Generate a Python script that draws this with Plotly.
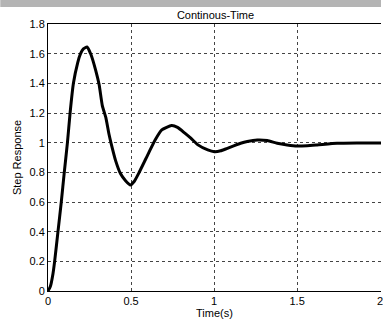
import plotly.graph_objects as go

time_s = [0, 0.014, 0.030, 0.040, 0.060, 0.080, 0.098, 0.117, 0.133, 0.153, 0.179, 0.196, 0.213,
          0.235, 0.258, 0.288, 0.308, 0.327, 0.348, 0.367, 0.381, 0.407, 0.437, 0.467, 0.496,
          0.52, 0.546, 0.605, 0.645, 0.685, 0.744, 0.78, 0.824, 0.86, 0.903, 0.962, 1.002,
          1.04, 1.08, 1.16, 1.2, 1.26, 1.32, 1.38, 1.44, 1.50, 1.56, 1.62, 1.74, 1.86, 2.01]
step_response = [0, 0.03, 0.117, 0.2, 0.4, 0.6, 0.8, 1.0, 1.2, 1.4, 1.54, 1.6, 1.632,
                 1.645, 1.596, 1.484, 1.39, 1.25, 1.17, 1.058, 0.99, 0.879, 0.79, 0.744, 0.715,
                 0.74, 0.793, 0.928, 1.018, 1.086, 1.115, 1.103, 1.064, 1.03, 0.985, 0.951, 0.939,
                 0.945, 0.962, 0.996, 1.008, 1.018, 1.014, 0.996, 0.985, 0.978, 0.98, 0.985, 0.996, 0.998, 0.998]
x_ticks = [0, 0.5, 1, 1.5, 2]
x_tick_labels = ["0", "0.5", "1", "1.5", "2"]
y_ticks = [0, 0.2, 0.4, 0.6, 0.8, 1.0, 1.2, 1.4, 1.6, 1.8]
y_tick_labels = ["0", "0.2", "0.4", "0.6", "0.8", "1", "1.2", "1.4", "1.6", "1.8"]

W, H = 383, 324
ml, mr, mt, mb = 48, 0, 24, 33
ph = H - mt - mb
pw = W - ml - mr

fig = go.Figure()
fig.add_trace(go.Scatter(x=time_s, y=step_response, mode="lines",
                         line=dict(color="black", width=3, shape="spline", smoothing=0.5),
                         showlegend=False, cliponaxis=True))

font = dict(family="Liberation Sans, Arial, sans-serif", size=11, color="black")
fig.update_layout(
    width=W, height=H,
    margin=dict(l=ml, r=mr, t=mt, b=mb, pad=0),
    paper_bgcolor="white", plot_bgcolor="white",
    font=font,
    title=dict(text="Continous-Time", x=(ml + pw / 2) / W, xanchor="center",
               y=1 - 15 / H, yanchor="middle", font=font),
    xaxis=dict(range=[0, 2.005], tickvals=x_ticks, ticktext=x_tick_labels,
               showline=True, linecolor="black", linewidth=1, mirror=True,
               showgrid=True, gridcolor="#444", gridwidth=1, griddash="3px,3px",
               zeroline=False, ticks="", tickfont=font, ticklabeloverflow="allow",
               title=dict(text="Time(s)", font=font, standoff=3)),
    yaxis=dict(range=[0, 1.8], tickvals=y_ticks, ticktext=y_tick_labels,
               showline=True, linecolor="black", linewidth=1, mirror=False,
               showgrid=True, gridcolor="#444", gridwidth=1, griddash="3px,3px",
               zeroline=False, ticks="", tickfont=font,
               title=dict(text="Step Response", font=font, standoff=5)),
)
fig.add_shape(type="rect", xref="paper", yref="paper",
              x0=-ml / pw, x1=1.0, y0=1 + (mt - 7) / ph, y1=1 + mt / ph,
              fillcolor="#b4b4b4", line=dict(width=0), layer="above")

fig.write_html("out.html")
